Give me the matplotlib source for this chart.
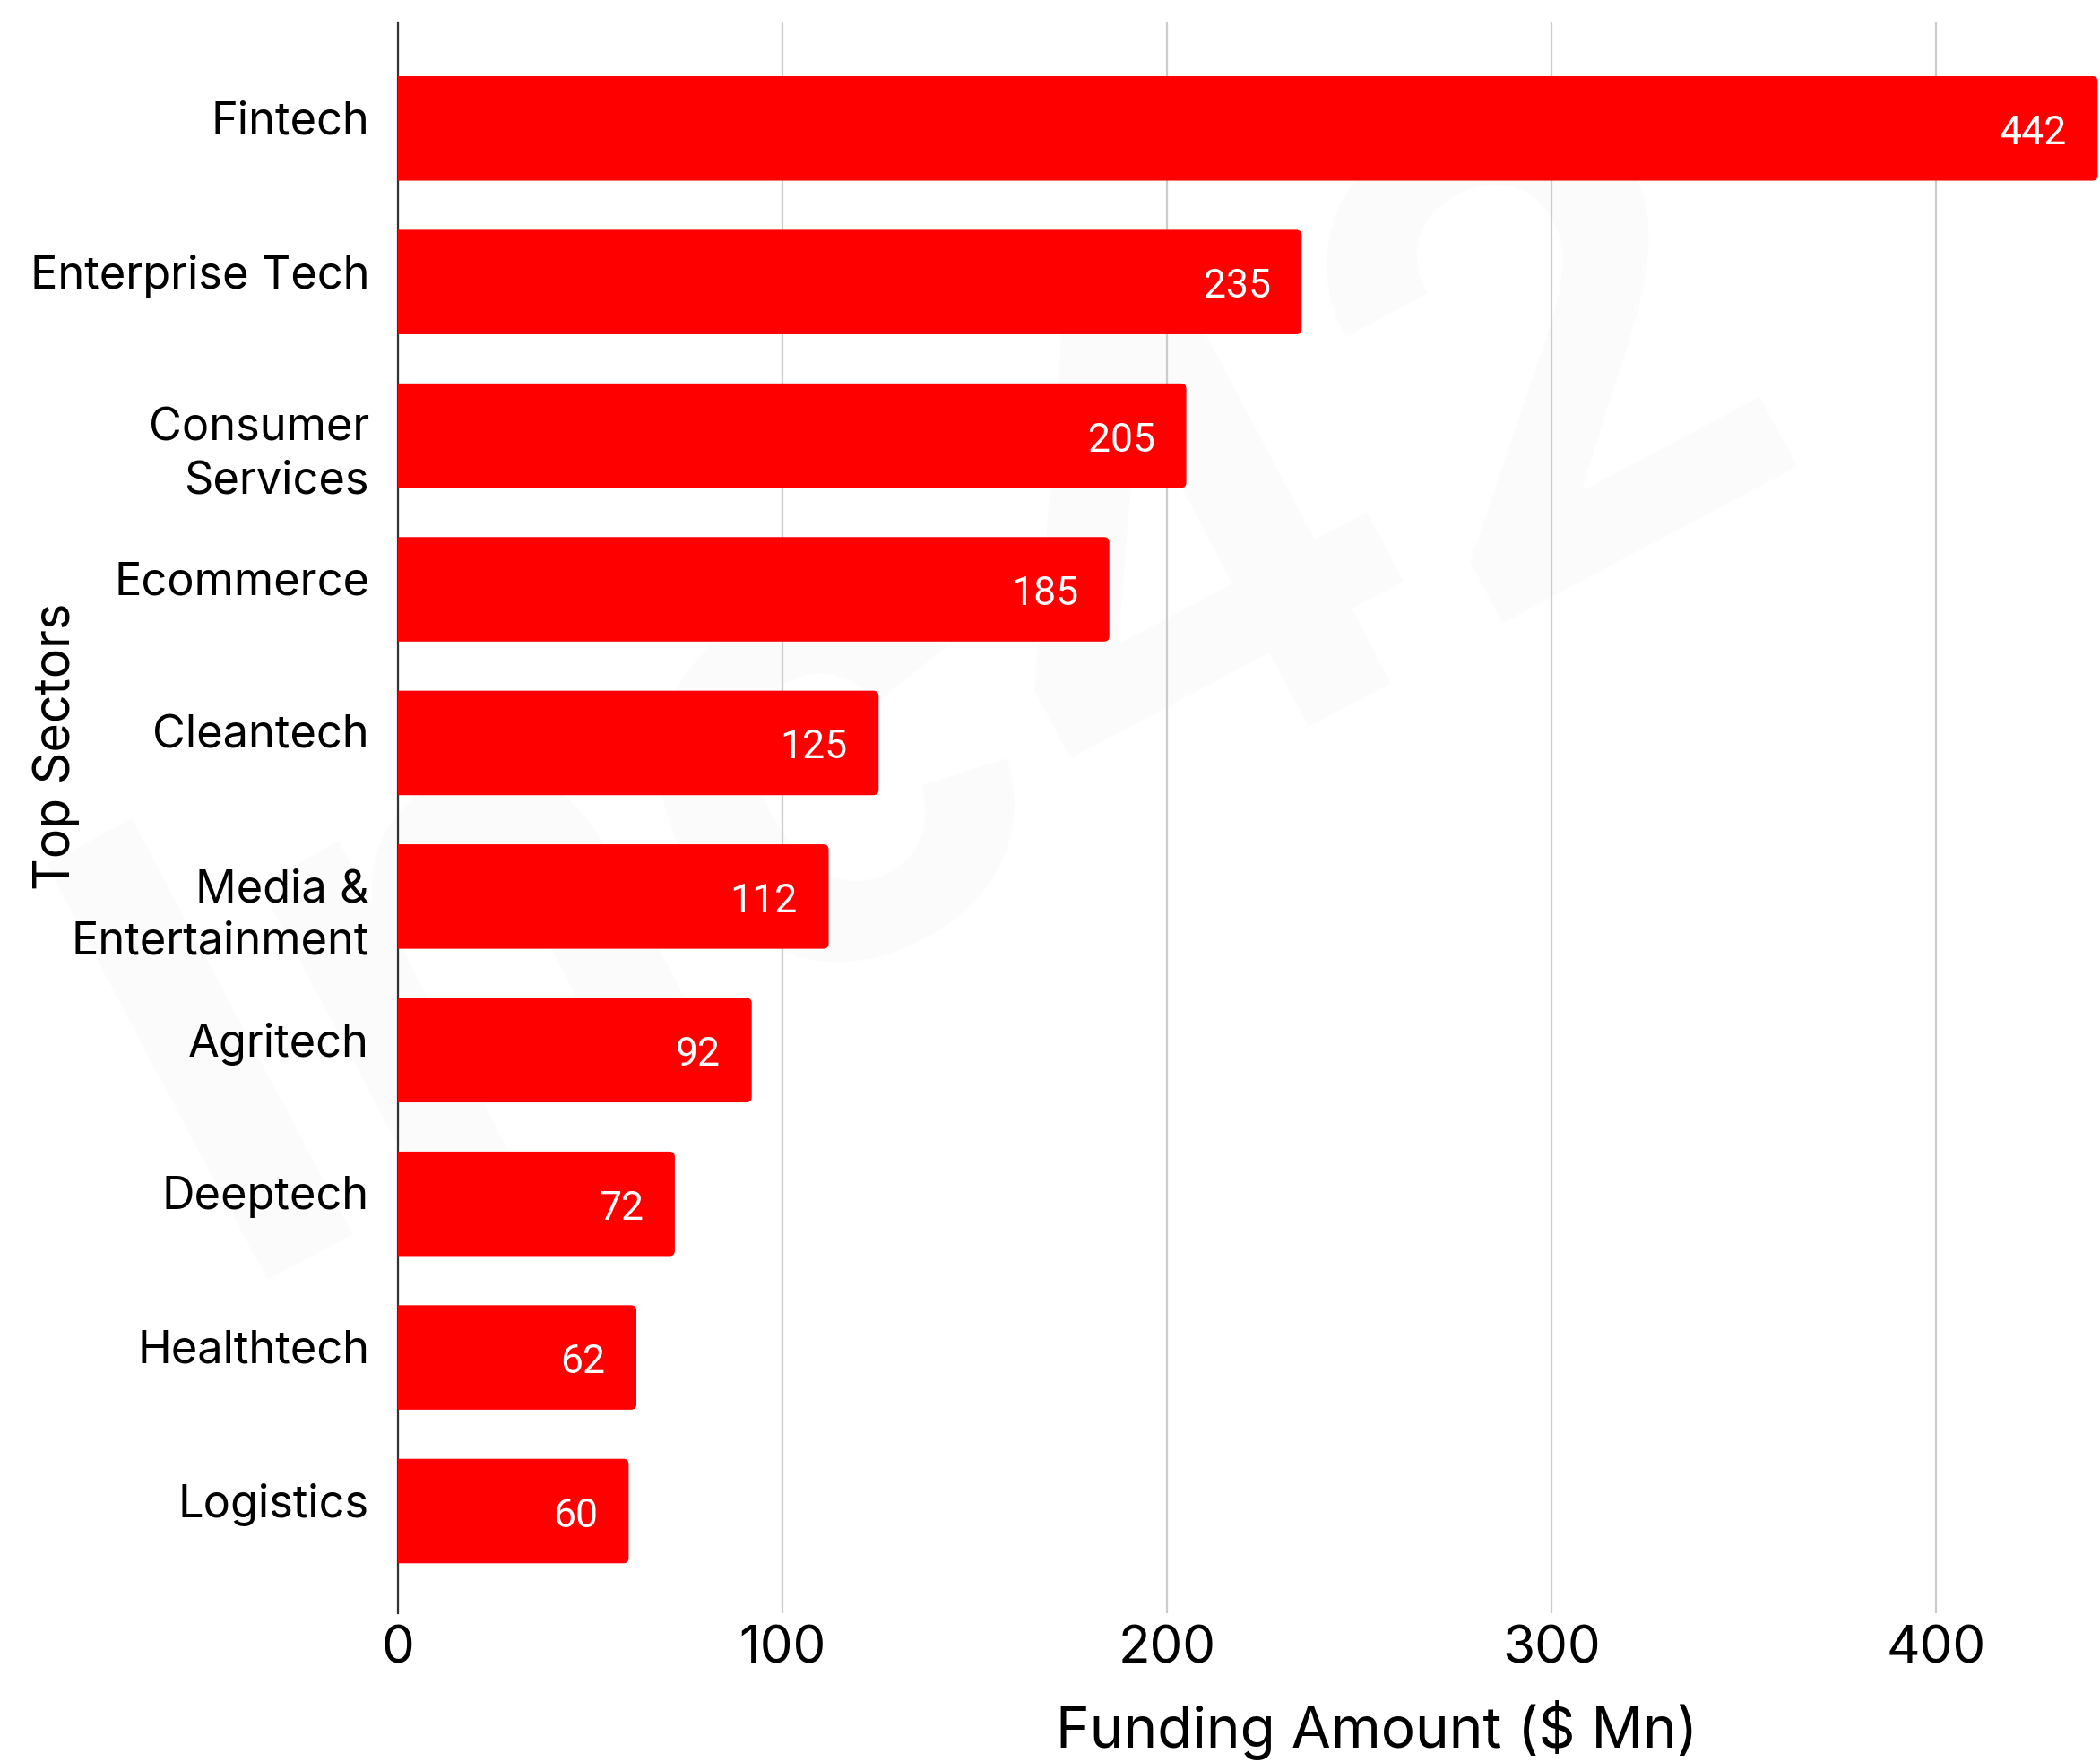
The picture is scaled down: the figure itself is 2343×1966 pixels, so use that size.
import matplotlib
matplotlib.use("Agg")
import matplotlib.pyplot as plt
from matplotlib.patches import FancyBboxPatch
import matplotlib.transforms as mtransforms

# data
sectors = ["Fintech", "Enterprise Tech", "Consumer\nServices", "Ecommerce", "Cleantech",
           "Media &\nEntertainment", "Agritech", "Deeptech", "Healthtech", "Logistics"]
funding = [442, 235, 205, 185, 125, 112, 92, 72, 62, 60]
xticks = [0, 100, 200, 300, 400]

bar_color = "#ff0000"
plt.rcParams['font.family'] = ['Inter', 'DejaVu Sans']

fig = plt.figure(figsize=(11.715, 9.83), dpi=200)
ax = fig.add_axes([444 / 2343, 1 - 1800 / 1966, 1 - 444 / 2343, (1800 - 25) / 1966])

# faint watermark behind everything
ax.text(0.45, 0.6, "Inc42", transform=fig.transFigure, fontsize=260, color="#fbfbfb",
        rotation=28, ha="center", va="center", fontweight="bold", zorder=0.5,
        clip_on=False)

ypos = list(range(len(sectors)))
bars = ax.barh(ypos, funding, height=0.68, color=bar_color, zorder=3)

# rounded right ends; the left end runs past the axis and gets clipped square
for b in bars:
    x0, y0 = b.get_x(), b.get_y()
    w, h = b.get_width(), b.get_height()
    b.set_visible(False)
    ax.add_patch(FancyBboxPatch((x0 - 4, y0), w + 4, h,
                                boxstyle="round,pad=0,rounding_size=1.4",
                                mutation_aspect=0.025, fc=bar_color, ec="none",
                                zorder=3))

# value labels inside bar end
off = mtransforms.offset_copy(ax.transData, fig=fig, x=-12.5, y=-2, units="points")
for y, v in zip(ypos, funding):
    ax.text(v, y, str(v), transform=off, ha="right", va="center",
            color="white", fontsize=16, family=['Roboto', 'DejaVu Sans'], zorder=4)

# category labels (first line sits on the bar centre, like the original)
lab_tr = mtransforms.offset_copy(ax.get_yaxis_transform(), fig=fig, x=-11.5, y=11.2,
                                 units="points")
for y, s in zip(ypos, sectors):
    ax.text(0, y, s, transform=lab_tr, ha="right", va="top", fontsize=18.2,
            multialignment="right", linespacing=1.3)

ax.set_xlim(0, 442.6)
ax.set_ylim(len(sectors) - 1 + 0.665, -0.69)
ax.set_yticks(ypos)
ax.set_yticklabels([])
ax.set_xticks(xticks)
ax.set_xticklabels([str(t) for t in xticks], fontsize=21)
ax.tick_params(axis="both", length=0)
ax.tick_params(axis="x", pad=5)

ax.grid(axis="x", color="#cccccc", linewidth=0.8, zorder=0)
for s in ["top", "right", "bottom"]:
    ax.spines[s].set_visible(False)
ax.spines["left"].set_color("#333333")
ax.spines["left"].set_linewidth(0.8)
ax.spines["left"].set_zorder(2)

ax.set_xlabel("Funding Amount ($ Mn)", fontsize=23, va="center")
ax.xaxis.set_label_coords(0.575, -0.073)
ax.set_ylabel("Top Sectors", fontsize=20, va="center")
ax.yaxis.set_label_coords(-0.2006, 0.545)

fig.savefig("out.png", dpi=200)
